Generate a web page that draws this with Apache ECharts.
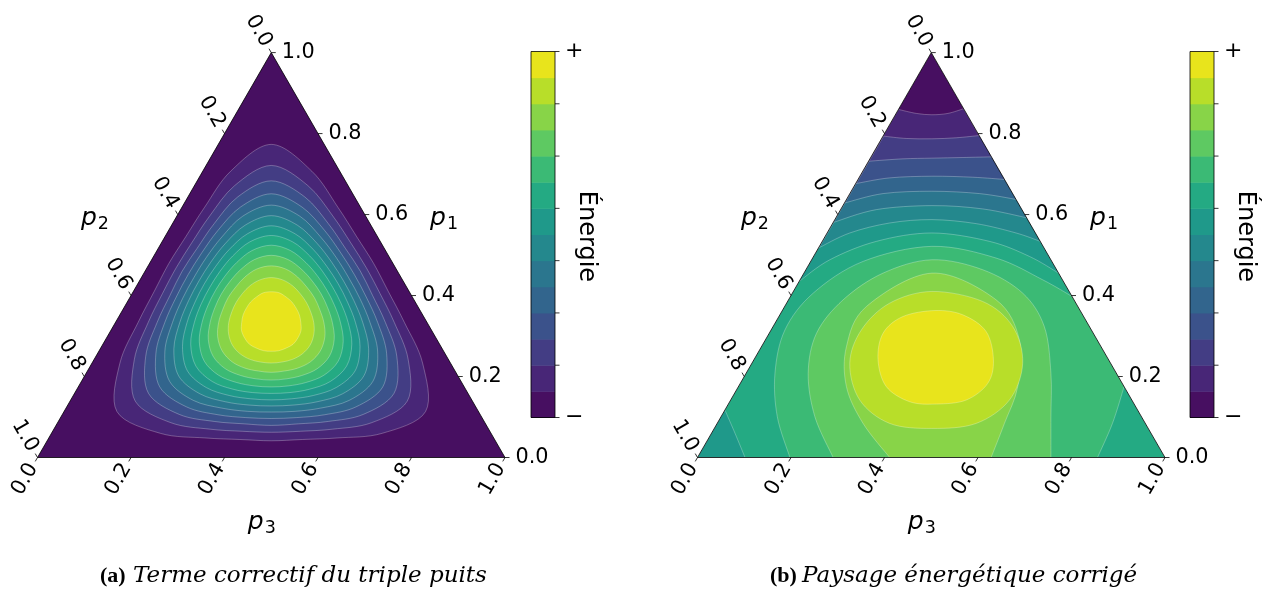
<!DOCTYPE html>
<html><head><meta charset="utf-8">
<script src="https://cdn.jsdelivr.net/npm/echarts@6/dist/echarts.min.js"></script>
<style>html,body{margin:0;padding:0;background:#fff}#c{width:1271px;height:594px}</style>
</head><body><div id="c"></div>
<script>
// ================= DATA =================
const tickValues = [0, 0.2, 0.4, 0.6, 0.8, 1.0];
const tickLabels = ['0.0', '0.2', '0.4', '0.6', '0.8', '1.0'];
const levelColors = ['#470f61','#482677','#433d84','#3b528b','#32658d','#2b768e','#24888d',
                     '#1f998a','#24aa83','#3bba75','#5ec962','#88d448','#b8de29','#e8e41c'];
const colorbarTicks = [0, 2, 4, 6, 8, 10, 12, 14];
const colorbarLabelLevels = [0, 14];
const colorbarLabels = ['\u2212', '+'];
const captionA = ['(a)', 'Terme correctif du triple puits'];
const captionB = ['(b)', 'Paysage énergétique corrigé'];
const axisNames = ['p', '1', '2', '3'];
const colorbarName = 'Énergie';

// panel (a): closed contours, radius (in p-units) from the centre every 15deg (0 = towards p1 corner)
const ringAnglesDeg = [0,15,30,45,60,75,90,105,120,135,150,165,180,195,210,225,240,255,270,285,300,315,330,345];
const ringCentreA = [0.5, 0.3333];
const ringsA = [
 [0.440,0.387,0.329,0.299,0.292,0.299,0.329,0.387,0.440,0.387,0.329,0.299,0.292,0.299,0.329,0.387,0.440,0.387,0.329,0.299,0.292,0.299,0.329,0.387],
 [0.388,0.350,0.304,0.278,0.271,0.278,0.304,0.350,0.388,0.350,0.304,0.278,0.271,0.278,0.304,0.350,0.388,0.350,0.304,0.278,0.271,0.278,0.304,0.350],
 [0.350,0.321,0.282,0.259,0.254,0.259,0.282,0.321,0.350,0.321,0.282,0.259,0.254,0.259,0.282,0.321,0.350,0.321,0.282,0.259,0.254,0.259,0.282,0.321],
 [0.318,0.295,0.263,0.243,0.237,0.243,0.263,0.295,0.318,0.295,0.263,0.243,0.237,0.243,0.263,0.295,0.318,0.295,0.263,0.243,0.237,0.243,0.263,0.295],
 [0.290,0.272,0.244,0.227,0.221,0.227,0.244,0.272,0.290,0.272,0.244,0.227,0.221,0.227,0.244,0.272,0.290,0.272,0.244,0.227,0.221,0.227,0.244,0.272],
 [0.264,0.249,0.226,0.211,0.206,0.211,0.226,0.249,0.264,0.249,0.226,0.211,0.206,0.211,0.226,0.249,0.264,0.249,0.226,0.211,0.206,0.211,0.226,0.249],
 [0.239,0.227,0.208,0.195,0.191,0.195,0.208,0.227,0.239,0.227,0.208,0.195,0.191,0.195,0.208,0.227,0.239,0.227,0.208,0.195,0.191,0.195,0.208,0.227],
 [0.215,0.206,0.190,0.179,0.175,0.179,0.190,0.206,0.215,0.206,0.190,0.179,0.175,0.179,0.190,0.206,0.215,0.206,0.190,0.179,0.175,0.179,0.190,0.206],
 [0.191,0.184,0.171,0.162,0.159,0.162,0.171,0.184,0.191,0.184,0.171,0.162,0.159,0.162,0.171,0.184,0.191,0.184,0.171,0.162,0.159,0.162,0.171,0.184],
 [0.166,0.161,0.151,0.144,0.142,0.144,0.151,0.161,0.166,0.161,0.151,0.144,0.142,0.144,0.151,0.161,0.166,0.161,0.151,0.144,0.142,0.144,0.151,0.161],
 [0.140,0.137,0.130,0.124,0.123,0.124,0.130,0.137,0.140,0.137,0.130,0.124,0.123,0.124,0.130,0.137,0.140,0.137,0.130,0.124,0.123,0.124,0.130,0.137],
 [0.111,0.109,0.105,0.101,0.100,0.101,0.105,0.109,0.111,0.109,0.105,0.101,0.100,0.101,0.105,0.109,0.111,0.109,0.105,0.101,0.100,0.101,0.105,0.109],
 [0.076,0.076,0.073,0.072,0.071,0.072,0.073,0.076,0.076,0.076,0.073,0.072,0.071,0.072,0.073,0.076,0.076,0.076,0.073,0.072,0.071,0.072,0.073,0.076]
];

// panel (b): super-level regions (levels 1..11), each a list of curve pieces in [x, p1] (x = p3 + p1/2)
const regionsB = [
 [[[0.4299,0.8597],[0.468,0.8498],[0.5014,0.8465],[0.5356,0.8498],[0.5693,0.8614]], [[1,0]], [[0,0]]],
 [[[0.3980,0.7937],[0.4467,0.7879],[0.5014,0.7871],[0.5533,0.7896],[0.6043,0.7954]], [[1,0]], [[0,0]]],
 [[[0.3670,0.7318],[0.4395,0.7376],[0.5014,0.7393],[0.5676,0.7409],[0.6307,0.7426]], [[1,0]], [[0,0]]],
 [[[0.3393,0.6766],[0.4111,0.6906],[0.5014,0.6947],[0.5889,0.6922],[0.6587,0.6865]], [[1,0]], [[0,0]]],
 [[[0.3152,0.6287],[0.3969,0.6518],[0.5014,0.6576],[0.6031,0.6518],[0.6834,0.6370]], [[1,0]], [[0,0]]],
 [[[0.2916,0.5809],[0.3826,0.6122],[0.5014,0.6221],[0.6102,0.6139],[0.7061,0.5916]], [[1,0]], [[0,0]]],
 [[[0.2587,0.5173],[0.3257,0.5545],[0.4111,0.5792],[0.5014,0.5875],[0.5960,0.5776],[0.6814,0.5545],[0.7331,0.5338]], [[1,0]], [[0,0]]],
 [[[0.2174,0.4348],[0.2831,0.4884],[0.3826,0.5338],[0.5014,0.5545],[0.6245,0.5338],[0.7098,0.4967],[0.7723,0.4554]], [[1,0]],
  [[0.1017,0],[0.0804,0.0594],[0.0587,0.1172]]],
 [[[0.1977,0],[0.1707,0.1007],[0.1657,0.2079],[0.1871,0.3152],[0.2475,0.4059],[0.3542,0.4843],[0.5014,0.5215],[0.6387,0.4926],[0.7383,0.4389],[0.8012,0.3977]],
  [[0.9125,0.1749],[0.8876,0.0842],[0.8556,0]]],
 [[[0.2902,0],[0.2511,0.1007],[0.2368,0.2079],[0.2546,0.3069],[0.3115,0.3894],[0.3969,0.4554],[0.5014,0.4884],[0.6102,0.4637],[0.6956,0.4059],[0.7418,0.3234],[0.7560,0.2079],[0.7560,0.1007],[0.7560,0]]],
 [[[0.4111,0],[0.3542,0.0842],[0.3186,0.1749],[0.3186,0.2739],[0.3613,0.3729],[0.5014,0.4554],[0.6387,0.3894],[0.6885,0.2904],[0.6849,0.1749],[0.6565,0.0842],[0.6280,0]]]
];
// panel (b): closed contours (levels 12, 13)
const ringsB = [
 [[0.5014,0.4101],[0.4111,0.3812],[0.3506,0.3152],[0.3257,0.2327],[0.3471,0.1419],[0.4111,0.0842],[0.5014,0.0718],[0.5960,0.0842],[0.6671,0.1419],[0.6956,0.2327],[0.6743,0.3234],[0.6102,0.3853]],
 [[0.5085,0.3630],[0.4395,0.3482],[0.3969,0.3069],[0.3862,0.2409],[0.4040,0.1749],[0.4538,0.1378],[0.5107,0.1320],[0.5747,0.1419],[0.6209,0.1832],[0.6330,0.2409],[0.6174,0.3111],[0.5676,0.3523]]
];

// ================= LAYOUT / STYLE =================
const FONT = 'DejaVu Sans';
const TICK_FS = 20.8;
const CW = 1271, CH = 594;
const TRI_A = {left: 37.5, top: 52.6, width: 467.5, height: 404.9};
const TRI_B = {left: 697.5, top: 52.6, width: 467.5, height: 404.9};
const CB = {left: 531, top: 51.5, width: 24, height: 366};
const CB_OFFSETS = [0, (1190 - 531) / 24];   // colorbar (b) on the same colour axis, shifted right
const TICK_LEN = 4.5;
const LABEL_DIST = 25;
const MASK_MARGIN = 0.025;
const NAME_POS = {p1: [0.8696, 0.591], p2: [0.1229, 0.591], p3: [0.4798, -0.161]};
const SEAM = 'rgba(255,255,255,0.45)';

function catmull(P, closed, start) {
  const n = P.length;
  let d = (start ? 'M' : 'L') + P[0][0].toFixed(2) + ',' + P[0][1].toFixed(2);
  const segs = closed ? n : n - 1;
  for (let i = 0; i < segs; i++) {
    const p0 = P[closed ? (i - 1 + n) % n : Math.max(i - 1, 0)];
    const p1 = P[i];
    const p2 = P[closed ? (i + 1) % n : i + 1];
    const p3 = P[closed ? (i + 2) % n : Math.min(i + 2, n - 1)];
    const c1 = [p1[0] + (p2[0] - p0[0]) / 6, p1[1] + (p2[1] - p0[1]) / 6];
    const c2 = [p2[0] - (p3[0] - p1[0]) / 6, p2[1] - (p3[1] - p1[1]) / 6];
    d += 'C' + c1[0].toFixed(2) + ',' + c1[1].toFixed(2) + ' ' + c2[0].toFixed(2) + ',' + c2[1].toFixed(2) + ' ' + p2[0].toFixed(2) + ',' + p2[1].toFixed(2);
  }
  return d;
}
function triPath(api) {
  return [api.coord([0, 0]), api.coord([1, 0]), api.coord([0.5, 1])];
}
function bgRender(params, api) {
  return {type: 'polygon', shape: {points: triPath(api)}, style: {fill: levelColors[0]}, z2: 0};
}
function ringARender(params, api) {
  const r = ringsA[params.dataIndex];
  const pts = ringAnglesDeg.map((deg, i) => {
    const th = deg * Math.PI / 180;
    return api.coord([ringCentreA[0] - r[i] * Math.sqrt(3) / 2 * Math.sin(th), ringCentreA[1] + r[i] * Math.cos(th)]);
  });
  return {type: 'path', shape: {pathData: catmull(pts, true, true) + 'Z'},
          style: {fill: levelColors[params.dataIndex + 1], stroke: SEAM, lineWidth: 0.6}, z2: params.dataIndex + 1};
}
function regionBRender(params, api) {
  const pieces = regionsB[params.dataIndex];
  let d = '';
  pieces.forEach((pc, j) => { d += catmull(pc.map(p => api.coord(p)), false, j === 0); });
  return {type: 'path', shape: {pathData: d + 'Z'},
          style: {fill: levelColors[params.dataIndex + 1], stroke: SEAM, lineWidth: 0.6}, z2: params.dataIndex + 1};
}
function ringBRender(params, api) {
  const pts = ringsB[params.dataIndex].map(p => api.coord(p));
  const lvl = regionsB.length + 1 + params.dataIndex;
  return {type: 'path', shape: {pathData: catmull(pts, true, true) + 'Z'},
          style: {fill: levelColors[lvl], stroke: SEAM, lineWidth: 0.6}, z2: lvl};
}
function maskRender(params, api) {
  const m = MASK_MARGIN;
  const polys = [
    [[0, 0], [0.5, 1], [0.5, 1 + m], [-m, 1 + m], [-m, -m], [0, -m]],
    [[1, 0], [0.5, 1], [0.5, 1 + m], [1 + m, 1 + m], [1 + m, -m], [1, -m]],
    [[-m, 0], [1 + m, 0], [1 + m, -m], [-m, -m]]
  ];
  return {type: 'group', children: polys.map(p => ({type: 'polygon', shape: {points: p.map(q => api.coord(q))}, style: {fill: '#fff'}}))};
}
function frameRender(params, api) {
  return {type: 'polygon', shape: {points: triPath(api)}, style: {fill: 'none', stroke: '#000', lineWidth: 0.8}, z2: 50};
}
function tickRender(params, api) {
  const t = tickValues[params.dataIndex], lab = tickLabels[params.dataIndex];
  const ch = [];
  const mk = (p, dir, rot, align) => {
    ch.push({type: 'line', shape: {x1: p[0], y1: p[1], x2: p[0] + dir[0] * TICK_LEN, y2: p[1] + dir[1] * TICK_LEN}, style: {stroke: '#000', lineWidth: 0.8}});
    if (align === 'left') {
      ch.push({type: 'text', x: p[0] + 10.5, y: p[1], style: {text: lab, font: TICK_FS + 'px ' + FONT, fill: '#000', align: 'left', verticalAlign: 'middle'}});
    } else {
      ch.push({type: 'text', x: p[0] + dir[0] * LABEL_DIST, y: p[1] + dir[1] * LABEL_DIST, rotation: rot,
               style: {text: lab, font: TICK_FS + 'px ' + FONT, fill: '#000', align: 'center', verticalAlign: 'middle'}});
    }
  };
  mk(api.coord([1 - t / 2, t]), [1, 0], 0, 'left');
  mk(api.coord([(1 - t) / 2, 1 - t]), [-0.5, -0.866], -Math.PI / 3, 'c');
  mk(api.coord([t, 0]), [-0.5, 0.866], Math.PI / 3, 'c');
  return {type: 'group', children: ch, z2: 60};
}
function namesRender(params, api) {
  const ch = [];
  [['p1', axisNames[1]], ['p2', axisNames[2]], ['p3', axisNames[3]]].forEach(([k, sub]) => {
    const c = api.coord(NAME_POS[k]);
    ch.push({type: 'text', x: c[0], y: c[1], style: {
      text: '{i|' + axisNames[0] + '}{s|' + sub + '}', align: 'center', verticalAlign: 'middle', fill: '#000',
      rich: {i: {font: 'italic 25px ' + FONT, fill: '#000', verticalAlign: 'middle'},
             s: {font: '17.5px ' + FONT, fill: '#000', verticalAlign: 'bottom', padding: [12, 0, 0, 1]}}}});
  });
  return {type: 'group', children: ch};
}
function makeCbRect(x0) {
  return function (params, api) {
    const k = params.dataIndex;
    const a = api.coord([x0, k + 1]), b = api.coord([x0 + 1, k]);
    return {type: 'rect', shape: {x: a[0], y: a[1], width: b[0] - a[0], height: b[1] - a[1] + 0.5}, style: {fill: levelColors[k]}};
  };
}
function makeCbFrame(x0) {
  return function (params, api) {
    const a = api.coord([x0, colorbarTicks[colorbarTicks.length - 1]]), b = api.coord([x0 + 1, colorbarTicks[0]]);
    const ch = [{type: 'rect', shape: {x: a[0], y: a[1], width: b[0] - a[0], height: b[1] - a[1]}, style: {fill: 'none', stroke: '#000', lineWidth: 0.8}}];
    colorbarTicks.forEach(v => {
      const p = api.coord([x0 + 1, v]);
      ch.push({type: 'line', shape: {x1: p[0], y1: p[1], x2: p[0] + TICK_LEN, y2: p[1]}, style: {stroke: '#000', lineWidth: 0.8}});
    });
    colorbarLabelLevels.forEach((v, i) => {
      const p = api.coord([x0 + 1, v]);
      ch.push({type: 'text', x: p[0] + 10, y: p[1], style: {text: colorbarLabels[i], font: '22px ' + FONT, fill: '#000', align: 'left', verticalAlign: 'middle'}});
    });
    const m = api.coord([x0 + 1, 7]);
    ch.push({type: 'text', x: m[0] + 31, y: m[1] + 2, rotation: -Math.PI / 2,
             style: {text: colorbarName, font: '24px ' + FONT, fill: '#000', align: 'center', verticalAlign: 'middle'}});
    return {type: 'group', children: ch};
  };
}

const grids = [TRI_A, TRI_B, CB];
const xAxis = grids.map((g, i) => ({gridIndex: i, type: 'value', min: 0, max: 1, show: false}));
const yAxis = grids.map((g, i) => ({gridIndex: i, type: 'value', min: 0, max: i < 2 ? 1 : 14, show: false}));
const idx = arr => arr.map((_, i) => i);
function cs(gi, data, renderItem, z) {
  return {type: 'custom', xAxisIndex: gi, yAxisIndex: gi, data: data, renderItem: renderItem, silent: true, animation: false, z: z, clip: false};
}
const series = [
  cs(0, [0], bgRender, 1), cs(0, idx(ringsA), ringARender, 2), cs(0, [0], frameRender, 5),
  cs(0, idx(tickValues), tickRender, 6), cs(0, [0], namesRender, 6),
  cs(1, [0], bgRender, 1), cs(1, idx(regionsB), regionBRender, 2), cs(1, idx(ringsB), ringBRender, 3),
  cs(1, [0], maskRender, 4), cs(1, [0], frameRender, 5),
  cs(1, idx(tickValues), tickRender, 6), cs(1, [0], namesRender, 6)
];
CB_OFFSETS.forEach(x0 => {
  series.push(cs(2, idx(levelColors), makeCbRect(x0), 7));
  series.push(cs(2, [0], makeCbFrame(x0), 8));
});
function caption(x1, x2, parts) {
  return [
    {type: 'text', x: x1, y: 576, style: {text: parts[0], font: 'bold 22px "Liberation Serif"', fill: '#000', align: 'left', verticalAlign: 'middle'}},
    {type: 'text', x: x2, y: 576, style: {text: parts[1], font: 'italic 23px "DejaVu Serif"', fill: '#000', align: 'left', verticalAlign: 'middle'}}
  ];
}
const chart = echarts.init(document.getElementById('c'), null, {renderer: 'canvas', width: CW, height: CH});
chart.setOption({
  animation: false, backgroundColor: '#fff',
  grid: grids.map(g => ({left: g.left, top: g.top, width: g.width, height: g.height, containLabel: false})),
  xAxis: xAxis, yAxis: yAxis, series: series,
  graphic: caption(100, 133, captionA).concat(caption(770, 802, captionB))
});
</script></body></html>
